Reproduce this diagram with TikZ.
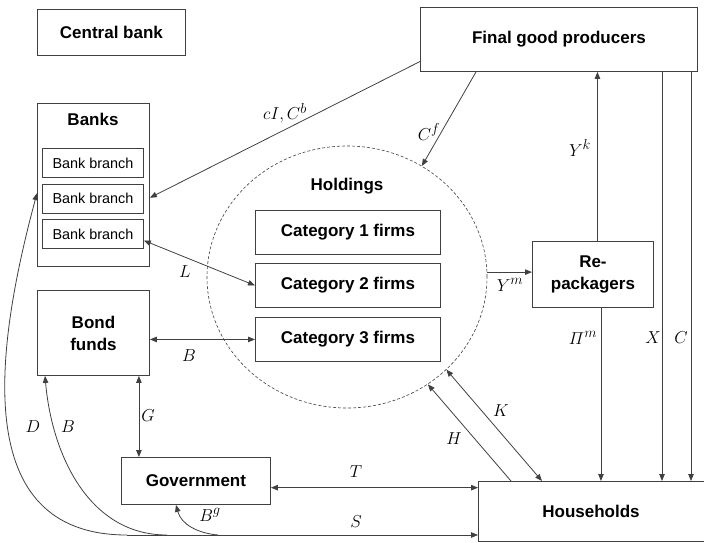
\documentclass[tikz,border=0pt]{standalone}
\usepackage{amsmath}
\usepackage{fontspec}
\setmainfont{Liberation Sans}
\DeclareMathSizes{18}{18}{13.5}{10}
\usetikzlibrary{arrows.meta,shapes.geometric,calc}
\begin{document}
\begin{tikzpicture}[x=1pt,y=-1pt,
  box/.style={draw=black!75, line width=0.9pt, inner sep=0pt, anchor=north west,
    font=\fontsize{17}{22}\selectfont\bfseries, align=center},
  branch/.style={draw=black!75, line width=0.9pt, inner sep=0pt, anchor=north west,
    minimum width=101pt, minimum height=29pt, font=\fontsize{14.4}{16}\selectfont},
  btitle/.style={inner sep=0pt, font=\fontsize{17}{22}\selectfont\bfseries},
  conn/.style={draw=black!75, line width=0.8pt},
  arr/.style={conn, -{Triangle[length=7pt,width=5.5pt]}},
  darr/.style={conn, {Triangle[length=7pt,width=5.5pt]}-{Triangle[length=7pt,width=5.5pt]}},
  lab/.style={font=\fontsize{18}{20}\selectfont, inner sep=0pt}
]
\useasboundingbox (0,0) rectangle (704,542);

% boxes
\node[box, minimum width=148pt, minimum height=46pt] (cb) at (37,9) {Central bank};
\node[box, minimum width=277pt, minimum height=64pt] (fgp) at (420,7) {Final good producers};
\node[box, minimum width=112pt, minimum height=163pt] (banks) at (37,103) {};
\node[btitle] (banksl) at (93,119) {Banks};
\node[branch] (bb1) at (42,148) {Bank branch};
\node[branch] (bb2) at (42,183.5) {Bank branch};
\node[branch] (bb3) at (42,219) {Bank branch};
\node[box, minimum width=112pt, minimum height=85pt] (bf) at (37,290) {Bond\\funds};
\node[box, minimum width=149pt, minimum height=47pt] (gov) at (121,457) {Government};
\node[ellipse, draw=black!75, dash pattern=on 3pt off 2pt, line width=0.6pt,
  minimum width=280pt, minimum height=262pt, inner sep=0pt] (hold) at (347,277) {};
\node[btitle] (holdl) at (347,186) {Holdings};
\node[box, minimum width=185pt, minimum height=44pt] (c1) at (255,209.5) {Category 1 firms};
\node[box, minimum width=185pt, minimum height=44pt] (c2) at (255,263) {Category 2 firms};
\node[box, minimum width=185pt, minimum height=44pt] (c3) at (255,317) {Category 3 firms};
\node[box, minimum width=121pt, minimum height=66pt] (rp) at (532,241) {Re-\\packagers};
\node[box, minimum width=240pt, minimum height=60pt] (hh) at (478,481) {};
\node[btitle] (hhl) at (591,511) {Households};

% helper coordinates
\coordinate (cfrom) at ($(fgp.north west)!0.84!(fgp.south west)$);
\coordinate (cto) at ($(banks.north east)!0.578!(banks.south east)$);
\coordinate (lfrom) at ($(bb3.north east)!0.72!(bb3.south east)$);
\coordinate (tg) at ($(gov.north east)!0.64!(gov.south east)$);
\coordinate (dtip) at ($(banks.north west)!0.55!(banks.south west)$);
\coordinate (sl) at (127,535);
\coordinate (bl) at (167,535);
\coordinate (bgl) at (218,535);

% connectors
\draw[arr] (cfrom) -- (cto);
\draw[arr] ([xshift=56pt]fgp.south west) -- (hold.56);
\draw[arr] ([xshift=4.5pt]rp.north) -- ([xshift=4.5pt]rp.north |- fgp.south);
\draw[arr] (hold.2.5) -- (hold.2.5 -| rp.west);
\draw[arr] ([xshift=8pt]rp.south) -- ([xshift=8pt]rp.south |- hh.north);
\draw[arr] ([xshift=242pt]fgp.south west) -- ([xshift=242pt]fgp.south west |- hh.north);
\draw[arr] ([xshift=271pt]fgp.south west) -- ([xshift=271pt]fgp.south west |- hh.north);
\draw[darr] (lfrom) -- (c2.west);
\draw[darr] (c3.west -| bf.east) -- (c3.west);
\draw[darr] ([xshift=-11pt]bf.south east) -- ([xshift=-11pt]bf.south east |- gov.north);
\draw[darr] (tg) -- (tg -| hh.west);
\draw[arr] ([xshift=33pt]hh.north west) -- (hold.-53);
\draw[darr] (hold.-43.5) -- ([xshift=64pt]hh.north west);
\draw[arr] (sl) -- (sl -| hh.west);
\draw[arr] (sl) to[out=180,in=-105,looseness=1.15] (dtip);
\draw[arr] (bl) to[out=180,in=-85] ([xshift=8pt]bf.south west);
\draw[arr] (bgl) to[out=175,in=-75] ([xshift=55pt]gov.south west);

% labels
\node[lab] (lcic) at (285,113) {$cI, C^b$};
\node[lab] (lcf) at (429,132) {$C^f$};
\node[lab] (lyk) at (580,148) {$Y^k$};
\node[lab] (lym) at (510,285) {$Y^m$};
\node[lab] (lpi) at (583,338) {$\varPi^m$};
\node[lab] (lx) at (653,338) {$X$};
\node[lab] (lc) at (681,338) {$C$};
\node[lab] (ll) at (185,272) {$L$};
\node[lab] (lb1) at (189,356) {$B$};
\node[lab] (lg) at (148,416) {$G$};
\node[lab] (ld) at (33,427) {$D$};
\node[lab] (lb2) at (68,427) {$B$};
\node[lab] (lbg) at (210,515) {$B^g$};
\node[lab] (ls) at (356,522) {$S$};
\node[lab] (lt) at (356,472) {$T$};
\node[lab] (lk) at (501,411) {$K$};
\node[lab] (lh) at (454,439) {$H$};
\end{tikzpicture}
\end{document}
